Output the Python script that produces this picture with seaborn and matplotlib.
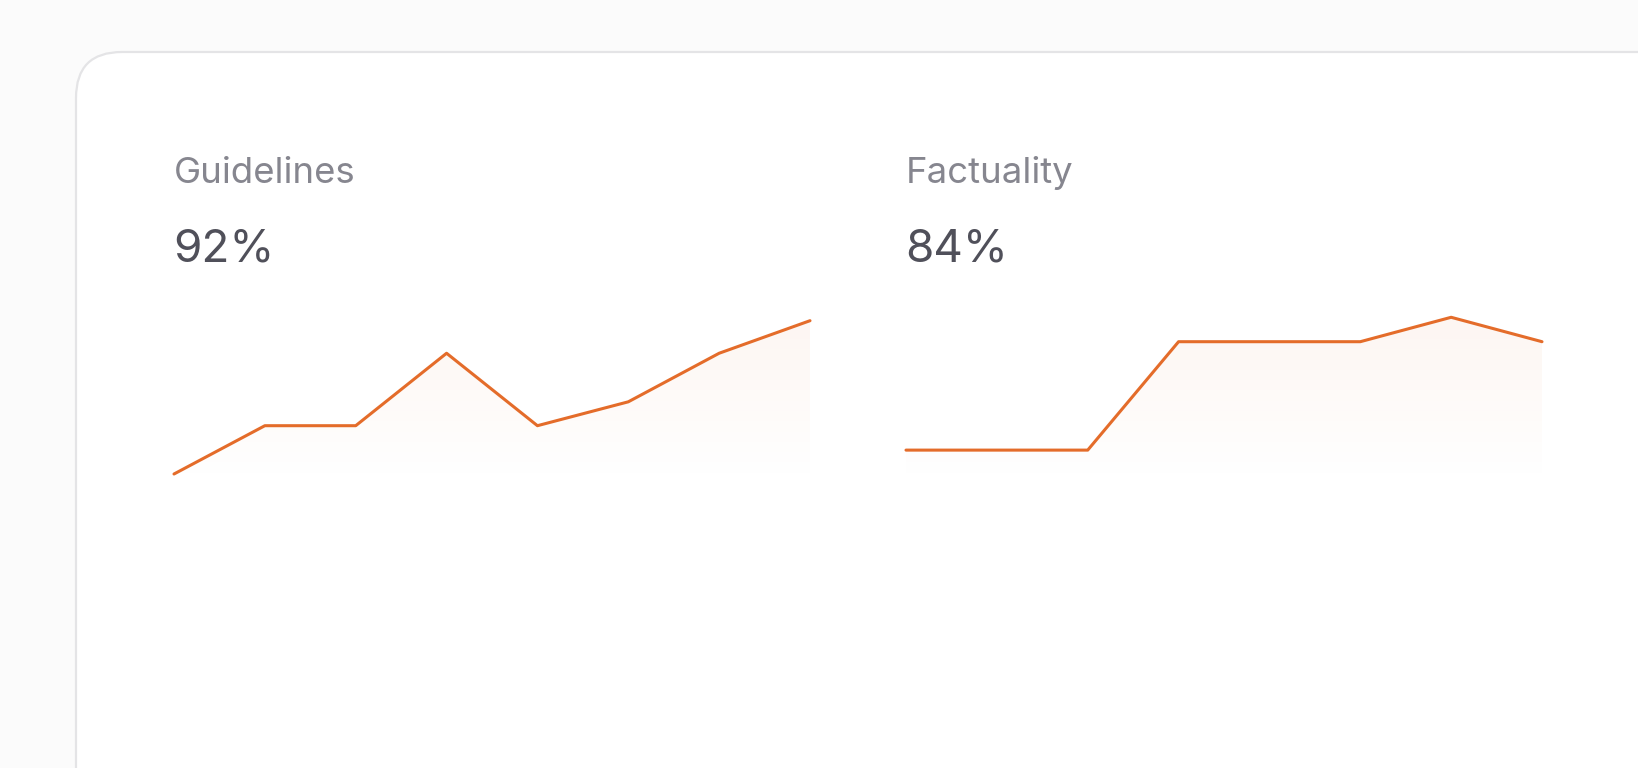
import numpy as np
import pandas as pd
import seaborn as sns
import matplotlib
matplotlib.use("Agg")
import matplotlib.pyplot as plt
from matplotlib.patches import FancyBboxPatch

# ---- data ----
steps = list(range(8))
guidelines_values = [33.6, 52.0, 52.0, 79.6, 52.0, 61.1, 79.6, 92.0]
factuality_values = [42.7, 42.7, 42.7, 84.0, 84.0, 84.0, 93.3, 84.0]
titles = ["Guidelines", "Factuality"]
headlines = ["92%", "84%"]

sns.set_theme(style="white")
plt.rcParams['font.family'] = ['Inter', 'DejaVu Sans']

W, H = 1638, 768
fig = plt.figure(figsize=(W / 100, H / 100), dpi=100)
fig.patch.set_facecolor("#fbfbfb")

# card
card = FancyBboxPatch((76 / W, -0.2), 1.3, (768 - 52) / H + 0.2,
                      boxstyle="round,pad=0,rounding_size=0.028",
                      transform=fig.transFigure, facecolor="white",
                      edgecolor="#e4e4e6", linewidth=1.6, zorder=-5,
                      mutation_aspect=W / H)
fig.patches.append(card)

LINE = "#e46c2a"
lefts = [174, 906]
chart_w = 636
y_zero = 562.2
y_hundred = 299.7

for i, vals in enumerate([guidelines_values, factuality_values]):
    ax = fig.add_axes([lefts[i] / W, (H - y_zero) / H, chart_w / W, (y_zero - y_hundred) / H])
    ax.set_zorder(2)
    ax.set_facecolor("none")
    df = pd.DataFrame({"step": steps, "value": vals})
    sns.lineplot(data=df, x="step", y="value", ax=ax, color=LINE, linewidth=2.2,
                 zorder=3, clip_on=False)
    ax.set_xlim(0, len(steps) - 1)
    ax.set_ylim(0, 100)

    # gradient fill under the line
    ny = 300
    yy = np.linspace(0, 100, ny)
    alpha = np.clip(0.065 * (yy - 30) / 65, 0, 0.065)
    rgba = np.zeros((ny, 2, 4))
    rgba[..., :3] = matplotlib.colors.to_rgb(LINE)
    rgba[..., 3] = alpha[:, None]
    im = ax.imshow(rgba, extent=[0, len(steps) - 1, 0, 100], origin="lower",
                   aspect="auto", zorder=2, interpolation="bilinear")
    poly = ax.fill_between(df["step"], df["value"], 0, color="none", linewidth=0)
    im.set_clip_path(poly.get_paths()[0], transform=ax.transData)

    ax.axis("off")

    fig.text(lefts[i] / W, 1 - 183 / H, titles[i], fontsize=26.3,
             color="#86868f", ha="left", va="baseline", zorder=5)
    fig.text(lefts[i] / W - 0.0005, 1 - 262 / H, headlines[i], fontsize=33,
             color="#50505a", ha="left", va="baseline", zorder=5)

fig.savefig("out.png", dpi=100, facecolor=fig.get_facecolor())
